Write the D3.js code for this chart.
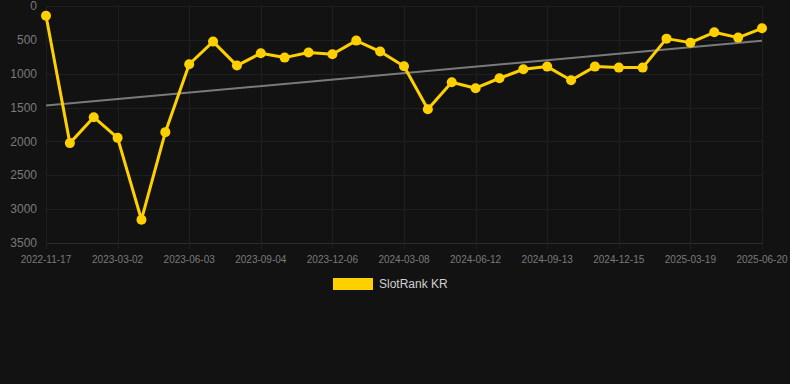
<!DOCTYPE html>
<html>
<head>
<meta charset="utf-8">
<script src="https://cdn.jsdelivr.net/npm/d3@7"></script>
<style>
  html, body { margin: 0; padding: 0; background: #121212; }
  svg { display: block; font-family: "Liberation Sans", Arial, sans-serif; }
</style>
</head>
<body>
<div id="chart"></div>
<script>
// one point per month-ish snapshot, labelled every third point
const rankValues = [143, 2025, 1642, 1947, 3156, 1863, 860, 526, 880, 698, 762, 688, 713, 511, 673,
  890, 1524, 1126, 1214, 1067, 934, 895, 1096, 895, 910, 910, 482, 541, 388, 467, 329]
const tickLabels = ['2022-11-17', '2023-03-02', '2023-06-03', '2023-09-04', '2023-12-06', '2024-03-08',
  '2024-06-12', '2024-09-13', '2024-12-15', '2025-03-19', '2025-06-20']
const yTicks = [0, 500, 1000, 1500, 2000, 2500, 3000, 3500]
const seriesName = 'SlotRank KR'

const width = 790
const height = 384
const margin = {top: 6, right: 28, bottom: 141, left: 46}
const lineColor = '#FFD000'
const gridColor = '#1f1f1f'
const tickColor = '#7a7a7a'

const svg = d3.select('#chart')
  .append('svg')
    .attr('width', width)
    .attr('height', height)

svg.append('rect')
  .attr('width', width)
  .attr('height', height)
  .attr('fill', '#121212')

const idx = d3.range(rankValues.length)
const x = d3.scaleLinear()
  .domain([0, rankValues.length - 1])
  .range([margin.left, width - margin.right])
const y = d3.scaleLinear()
  .domain([0, 3500])
  .range([margin.top, height - margin.bottom])

// grid
const labelIdx = tickLabels.map((d, i) => i * 3)
svg.append('g')
  .selectAll('line')
  .data(yTicks)
  .join('line')
    .attr('x1', margin.left)
    .attr('x2', width - margin.right)
    .attr('y1', d => Math.round(y(d)) + 0.5)
    .attr('y2', d => Math.round(y(d)) + 0.5)
    .attr('stroke', d => d === 3500 ? '#2c2c2c' : gridColor)
svg.append('g')
  .selectAll('line')
  .data(labelIdx)
  .join('line')
    .attr('x1', d => Math.round(x(d)) + 0.5)
    .attr('x2', d => Math.round(x(d)) + 0.5)
    .attr('y1', margin.top)
    .attr('y2', y(3500) + 6)
    .attr('stroke', gridColor)

// y tick labels
svg.append('g')
  .selectAll('text')
  .data(yTicks)
  .join('text')
    .attr('x', 37)
    .attr('y', d => y(d))
    .attr('dy', '0.35em')
    .attr('text-anchor', 'end')
    .attr('fill', tickColor)
    .style('font-size', '12px')
    .text(d => d)

// x tick labels
svg.append('g')
  .selectAll('text')
  .data(labelIdx)
  .join('text')
    .attr('x', d => x(d))
    .attr('y', 259)
    .attr('dy', '0.35em')
    .attr('text-anchor', 'middle')
    .attr('fill', tickColor)
    .style('font-size', '10px')
    .text((d, i) => tickLabels[i])

// least squares trend
const mx = d3.mean(idx)
const my = d3.mean(rankValues)
const slope = d3.sum(idx, i => (i - mx) * (rankValues[i] - my)) / d3.sum(idx, i => (i - mx) * (i - mx))
const trend = i => my + slope * (i - mx)
svg.append('line')
  .attr('x1', x(0))
  .attr('y1', y(trend(0)))
  .attr('x2', x(idx.length - 1))
  .attr('y2', y(trend(idx.length - 1)))
  .attr('stroke', '#7a7a7a')
  .attr('stroke-width', 2)

// series
svg.append('path')
  .datum(rankValues)
  .attr('fill', 'none')
  .attr('stroke', lineColor)
  .attr('stroke-width', 3)
  .attr('stroke-linejoin', 'round')
  .attr('d', d3.line()
    .x((d, i) => x(i))
    .y(d => y(d)))

svg.append('g')
  .selectAll('circle')
  .data(rankValues)
  .join('circle')
    .attr('cx', (d, i) => x(i))
    .attr('cy', d => y(d))
    .attr('r', 5)
    .attr('fill', lineColor)

// legend
const legend = svg.append('g')
legend.append('rect')
  .attr('x', 333)
  .attr('y', 278)
  .attr('width', 40)
  .attr('height', 12)
  .attr('fill', lineColor)
legend.append('text')
  .attr('x', 379)
  .attr('y', 284)
  .attr('dy', '0.35em')
  .attr('fill', '#cfcfcf')
  .style('font-size', '12px')
  .text(seriesName)
</script>
</body>
</html>
